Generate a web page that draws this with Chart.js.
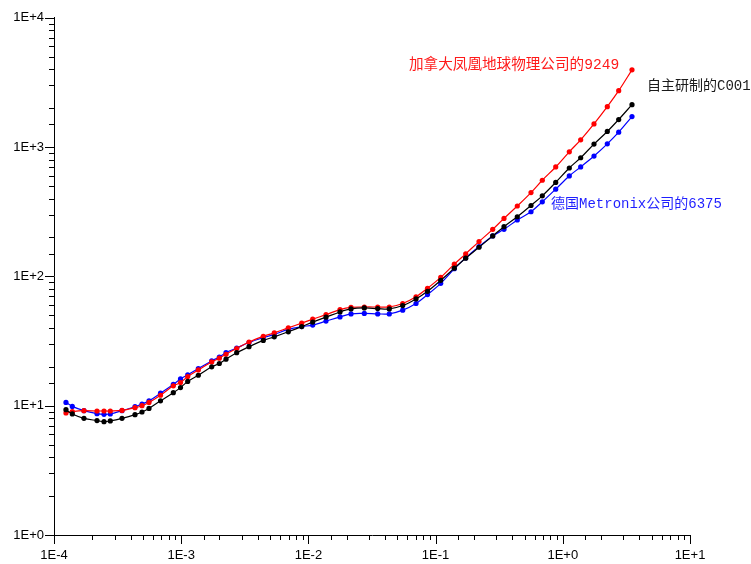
<!DOCTYPE html>
<html>
<head>
<meta charset="utf-8">
<script src="https://cdn.jsdelivr.net/npm/chart.js@4/dist/chart.umd.min.js"></script>
<style>
html,body{margin:0;padding:0;background:#fff;}
#wrap{width:751px;height:564px;}
</style>
</head>
<body>
<div id="wrap"><canvas id="c" width="751" height="564"></canvas></div>
<script>
// x values (same for all three series)
const xValues = [1.242e-4,1.393e-4,1.720e-4,2.178e-4,2.472e-4,2.770e-4,3.424e-4,4.332e-4,4.917e-4,5.582e-4,
  6.876e-4,8.668e-4,9.874e-4,1.125e-3,1.363e-3,1.737e-3,1.993e-3,2.250e-3,2.731e-3,3.412e-3,
  4.419e-3,5.393e-3,6.950e-3,8.857e-3,1.081e-2,1.375e-2,1.772e-2,2.163e-2,2.751e-2,3.506e-2,
  4.325e-2,5.511e-2,7.014e-2,8.636e-2,0.1097,0.1403,0.1724,0.2194,0.2812,0.3449,
  0.4387,0.5623,0.6900,0.8795,1.125,1.382,1.759,2.238,2.751,3.499];
// 加拿大凤凰地球物理公司的9249
const redValues = [8.79,8.99,9.15,9.10,9.10,9.10,9.20,9.65,10.0,10.6,
  12.05,14.25,15.1,16.8,18.9,21.8,23.3,25.0,27.7,31.1,
  34.4,36.6,40.0,43.5,46.7,50.6,55.4,57.7,58.0,58.0,
  58.0,61.7,69.6,80.9,98.2,124.3,149.5,185.9,231.1,280.9,
  350.4,445.0,554.3,702,920,1138,1511,2056,2731,3960];
// 自主研制的C001
const blackValues = [9.32,8.63,7.99,7.67,7.53,7.63,7.99,8.53,8.94,9.53,
  10.9,12.6,13.8,15.4,17.2,20.0,21.2,22.9,25.7,28.6,
  32.0,34.1,37.3,40.9,44.3,48.4,53.1,56.0,57.0,56.4,
  56.0,59.5,66.9,76.7,93.2,115.8,138.3,168.0,205.6,242.4,
  289.3,353.6,419.9,533.4,689.4,827.4,1055,1321,1634,2130];
// 德国Metronix公司的6375
const blueValues = [10.6,9.88,9.15,8.68,8.57,8.63,9.15,9.82,10.3,10.9,
  12.5,14.6,16.1,17.3,19.4,22.2,23.8,25.7,27.9,30.8,
  33.6,35.6,38.9,40.9,42.0,45.1,48.6,51.3,51.7,51.3,
  51.3,54.8,61.7,72.3,88.4,114.6,139.0,170.1,205.6,231.1,
  273.1,316.2,377.6,472.8,598.4,702.1,852.7,1060,1305,1723];
const seriesNames = ['自主研制的C001','加拿大凤凰地球物理公司的9249','德国Metronix公司的6375'];
const xTickLabels = ['1E-4','1E-3','1E-2','1E-1','1E+0','1E+1'];
const yTickLabels = ['1E+0','1E+1','1E+2','1E+3','1E+4'];

function pts(ys){ return xValues.map((x,i)=>({x:x,y:ys[i]})); }
function expLabel(v){
  const l = Math.log10(v), r = Math.round(l);
  if (Math.abs(l - r) > 1e-6) return '';
  return '1E' + (r >= 0 ? '+' : '-') + Math.abs(r);
}
function ds(label, data, color){
  return {label:label, data:pts(data), borderColor:color, backgroundColor:color,
    borderWidth:1.2, pointRadius:2.6, pointBorderWidth:0, pointHoverRadius:2.6,
    tension:0.35, fill:false};
}

const tickMarks = {
  id:'tickMarks',
  afterDraw(chart){
    const ctx = chart.ctx;
    ctx.save();
    ctx.strokeStyle = '#000';
    ctx.lineWidth = 1;
    const xs = chart.scales.x, ys = chart.scales.y;
    xs.ticks.forEach(t=>{
      const major = expLabel(t.value) !== '';
      const px = Math.round(xs.getPixelForValue(t.value)) + 0.5;
      ctx.beginPath(); ctx.moveTo(px, xs.top); ctx.lineTo(px, xs.top + (major?9:5)); ctx.stroke();
    });
    ys.ticks.forEach(t=>{
      const major = expLabel(t.value) !== '';
      const py = Math.round(ys.getPixelForValue(t.value)) + 0.5;
      ctx.beginPath(); ctx.moveTo(ys.right, py); ctx.lineTo(ys.right - (major?9:5), py); ctx.stroke();
    });
    ctx.restore();
  }
};

// text labels anchored in data space
const notes = [
  {text:seriesNames[1], x:0.0618, y:4274, size:14.6, color:'#ff1a1a'},
  {text:seriesNames[0], x:4.59, y:2945, size:14, color:'#1a1a1a'},
  {text:seriesNames[2], x:0.808, y:360, size:14, color:'#1f1fff'}
];
const notePlugin = {
  id:'notes',
  afterDraw(chart){
    const ctx = chart.ctx, xs = chart.scales.x, ys = chart.scales.y;
    ctx.save();
    ctx.textBaseline = 'middle';
    ctx.textAlign = 'left';
    notes.forEach(n=>{
      ctx.font = n.size + 'px "Liberation Mono", "Noto Sans CJK SC", monospace';
      ctx.fillStyle = n.color;
      ctx.fillText(n.text, xs.getPixelForValue(n.x), ys.getPixelForValue(n.y));
    });
    ctx.restore();
  }
};

new Chart(document.getElementById('c'), {
  type:'line',
  data:{datasets:[ds(seriesNames[0], blackValues, '#000000'),
                  ds(seriesNames[1], redValues, '#ff0000'),
                  ds(seriesNames[2], blueValues, '#0000ff')]},
  options:{
    responsive:false, animation:false,
    layout:{padding:{top:15, right:61, left:0, bottom:0}},
    plugins:{legend:{display:false}, tooltip:{enabled:false}},
    scales:{
      x:{type:'logarithmic', min:1e-4, max:10,
        grid:{display:false, drawTicks:false},
        border:{display:true, color:'#000', width:1},
        ticks:{autoSkip:false, maxRotation:0, padding:13, color:'#000',
          font:{family:'"Liberation Sans", Arial, sans-serif', size:13},
          callback:(v)=>expLabel(v)},
        afterFit:(s)=>{ s.height = 29; }
      },
      y:{type:'logarithmic', min:1, max:10000,
        grid:{display:false, drawTicks:false},
        border:{display:true, color:'#000', width:1},
        ticks:{autoSkip:false, padding:10, color:'#000',
          font:{family:'"Liberation Sans", Arial, sans-serif', size:13},
          callback:(v)=>expLabel(v)},
        afterFit:(s)=>{ s.width = 54; }
      }
    }
  },
  plugins:[tickMarks, notePlugin]
});
</script>
</body>
</html>
